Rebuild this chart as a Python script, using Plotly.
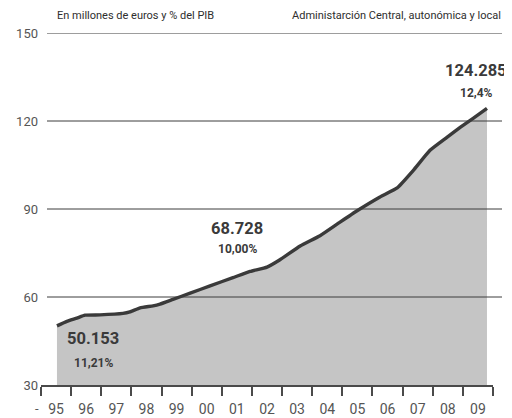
import plotly.graph_objects as go

# Data (fractional year positions, millions of euros)
years = [1995.03, 1995.36, 1995.69, 1995.96, 1996.46, 1997.22, 1997.45, 1997.79,
         1998.22, 1998.45, 1998.88, 1999.45, 2000.11, 2000.87, 2001.44, 2002.00,
         2002.43, 2003.10, 2003.76, 2004.42, 2004.99, 2005.75, 2006.32, 2006.85,
         2007.41, 2007.97, 2008.41, 2008.84, 2009.30]
values = [50.153, 51.7, 52.8, 53.8, 53.9, 54.4, 54.9, 56.3,
          57.0, 57.6, 59.2, 61.3, 63.8, 66.6, 68.728, 70.2,
          72.7, 77.4, 80.9, 85.5, 89.4, 94.1, 97.2, 103.1,
          110.0, 114.4, 117.8, 120.9, 124.285]

tick_years = list(range(1995, 2010))
tick_labels = ["95", "96", "97", "98", "99", "00", "01", "02", "03", "04",
               "05", "06", "07", "08", "09"]
y_ticks = [30, 60, 90, 120, 150]
grid_values = [60, 90, 120, 150]

callout_numbers = ["50.153", "68.728", "124.285"]
callout_pcts = ["11,21%", "10,00%", "12,4%"]
callout_pos = [(93, 338, 363), (237, 228, 249), (476, 71, 93)]

# page body has an 8px margin, so the figure is drawn 8px in from the window corner
OFF = 8
W, H = 512 - OFF, 418 - OFF
L, R, T, B = 41 - OFF, 19, 33 - OFF, 33
pw = W - L - R
ph = H - T - B


def px(x):
    return (x - OFF - L) / pw


def py(y):
    return 1 - (y - OFF - T) / ph


fig = go.Figure()
fig.add_trace(go.Scatter(
    x=years, y=values, mode="lines", fill="tozeroy",
    fillcolor="#c5c5c5",
    line=dict(color="#3a3a3a", width=3.4, shape="spline", smoothing=0.4),
    hoverinfo="skip", showlegend=False,
))

shapes = []
for g in grid_values:
    shapes.append(dict(type="line", xref="paper", yref="y",
                       x0=px(47), x1=px(502), y0=g, y1=g, layer="above",
                       line=dict(color="#3c3c3c", width=1)))

annotations = []
dark = "#3a3a3a"
for (cx, yb, ys), big, pct in zip(callout_pos, callout_numbers, callout_pcts):
    annotations.append(dict(xref="paper", yref="paper", x=px(cx), y=py(yb),
                            text="<b>%s</b>" % big, showarrow=False,
                            font=dict(family="Roboto", size=16.5, color=dark),
                            xanchor="center", yanchor="middle"))
    annotations.append(dict(xref="paper", yref="paper", x=px(cx), y=py(ys),
                            text="<b>%s</b>" % pct, showarrow=False,
                            font=dict(family="Roboto", size=12, color=dark),
                            xanchor="center", yanchor="middle"))

annotations.append(dict(xref="paper", yref="paper", x=px(55), y=py(15),
                        text="En millones de euros y % del PIB", showarrow=False,
                        font=dict(family="Roboto", size=11, color="#2e2e2e"),
                        xanchor="left", yanchor="middle"))
annotations.append(dict(xref="paper", yref="paper", x=px(503), y=py(15),
                        text="Administarción Central, autonómica y local", showarrow=False,
                        font=dict(family="Roboto", size=11, color="#2e2e2e"),
                        xanchor="right", yanchor="middle"))
annotations.append(dict(xref="paper", yref="paper", x=px(37), y=py(408),
                        text="-", showarrow=False,
                        font=dict(family="Roboto", size=13, color="#555"),
                        xanchor="center", yanchor="middle"))

fig.update_layout(
    width=W, height=H,
    margin=dict(l=L, r=R, t=T, b=B, pad=0, autoexpand=False),
    paper_bgcolor="white", plot_bgcolor="white",
    shapes=shapes, annotations=annotations,
    xaxis=dict(
        range=[1994.5, 2009.5], tickmode="array", tickvals=tick_years,
        ticktext=tick_labels, ticks="", showgrid=False, zeroline=False,
        showline=True, linecolor="#4a4a4a", linewidth=1.5, automargin=False,
        tickfont=dict(family="Roboto", size=14, color="#555"),
        ticklabelstandoff=10,
        minor=dict(tickmode="linear", tick0=1994.5, dtick=1, ticks="outside",
                   ticklen=9, tickwidth=1.5, tickcolor="#4a4a4a", showgrid=False),
    ),
    yaxis=dict(
        range=[30, 150], tickmode="array", tickvals=y_ticks,
        ticks="", showgrid=False, zeroline=False, showline=False, automargin=False,
        tickfont=dict(family="Roboto", size=13, color="#555"),
        ticklabelstandoff=2,
    ),
)

fig.write_html("out.html")
